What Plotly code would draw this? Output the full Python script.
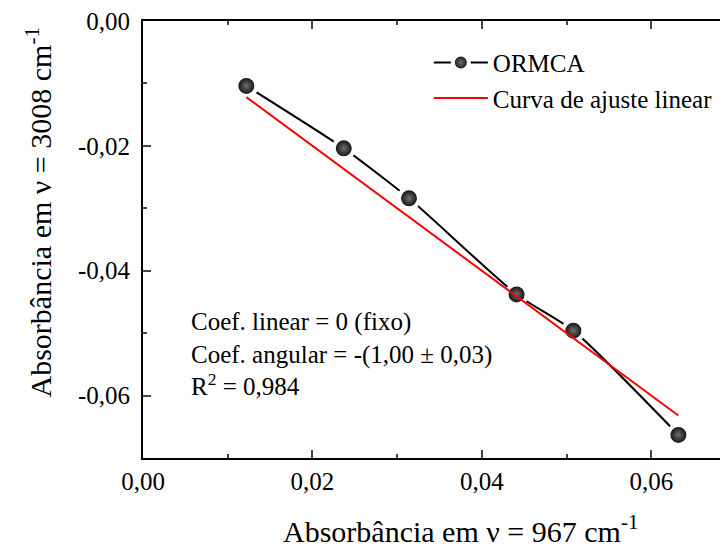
import plotly.graph_objects as go

x_ormca = [0.0122, 0.0237, 0.0314, 0.0441, 0.0508, 0.0632]
y_ormca = [-0.0104, -0.0204, -0.0284, -0.0438, -0.0496, -0.0663]
x_fit = [0.0122, 0.0632]
slope = -1.0
y_fit = [slope * v for v in x_fit]

x_tickvals = [0, 0.02, 0.04, 0.06]
x_ticktext = ["0,00", "0,02", "0,04", "0,06"]
y_tickvals = [0, -0.02, -0.04, -0.06]
y_ticktext = ["0,00", "-0,02", "-0,04", "-0,06"]

FONT = "Liberation Serif"

fig = go.Figure()
fig.add_trace(go.Scatter(
    x=x_ormca, y=y_ormca, mode="lines+markers", name="ORMCA",
    line=dict(color="black", width=2, shape="spline", smoothing=0.6),
    marker=dict(size=20, color="black",
                gradient=dict(type="radial", color="#707070"),
                line=dict(color="white", width=4)),
))
fig.add_trace(go.Scatter(
    x=x_fit, y=y_fit, mode="lines", name="Curva de ajuste linear",
    line=dict(color="red", width=2),
))

fig.add_annotation(
    x=0.0776, y=0.237, xref="paper", yref="paper", xanchor="left", yanchor="middle",
    align="left", showarrow=False,
    text="Coef. linear = 0 (fixo)<br>Coef. angular = -(1,00 ± 0,03)<br>R<sup>2</sup> = 0,984",
    font=dict(family=FONT, size=25, color="black"),
)
# axis titles
fig.add_annotation(
    x=0.536, y=-0.163, xref="paper", yref="paper", xanchor="center", yanchor="middle",
    showarrow=False, text="Absorbância em ν = 967 cm<sup>-1</sup>",
    font=dict(family=FONT, size=30, color="black"),
)
fig.add_annotation(
    x=-0.176, y=0.561, xref="paper", yref="paper", xanchor="center", yanchor="middle",
    showarrow=False, textangle=-90, text="Absorbância em ν = 3008 cm<sup>-1</sup>",
    font=dict(family=FONT, size=30, color="black"),
)

fig.update_layout(
    width=728, height=550,
    margin=dict(l=135, r=0, t=13, b=100),
    paper_bgcolor="white", plot_bgcolor="white",
    font=dict(family=FONT, size=25, color="black"),
    showlegend=True,
    legend=dict(x=0.482, y=0.957, xanchor="left", yanchor="top",
                bgcolor="rgba(0,0,0,0)", font=dict(family=FONT, size=25, color="black"),
                itemwidth=54, tracegroupgap=0),
    xaxis=dict(
        range=[0, 0.07], tickvals=x_tickvals, ticktext=x_ticktext,
        ticks="inside", ticklen=8, tickwidth=1.5, mirror="ticks", automargin=False,
        showline=True, linecolor="black", linewidth=2, showgrid=False, zeroline=False,
        minor=dict(tickvals=[0.01, 0.03, 0.05], ticks="inside", ticklen=4, tickwidth=1.5),
        tickfont=dict(family=FONT, size=25, color="black"), ticklabeloverflow="allow",
    ),
    yaxis=dict(
        range=[-0.07, 0.0], tickvals=y_tickvals, ticktext=y_ticktext,
        ticks="inside", ticklen=8, tickwidth=1.5, mirror="ticks", automargin=False,
        showline=True, linecolor="black", linewidth=2, showgrid=False, zeroline=False,
        minor=dict(tickvals=[-0.01, -0.03, -0.05, -0.07], ticks="inside", ticklen=4, tickwidth=1.5),
        tickfont=dict(family=FONT, size=25, color="black"), ticklabelstandoff=6,
        ticklabeloverflow="allow",
    ),
)

fig.write_html("out.html")
